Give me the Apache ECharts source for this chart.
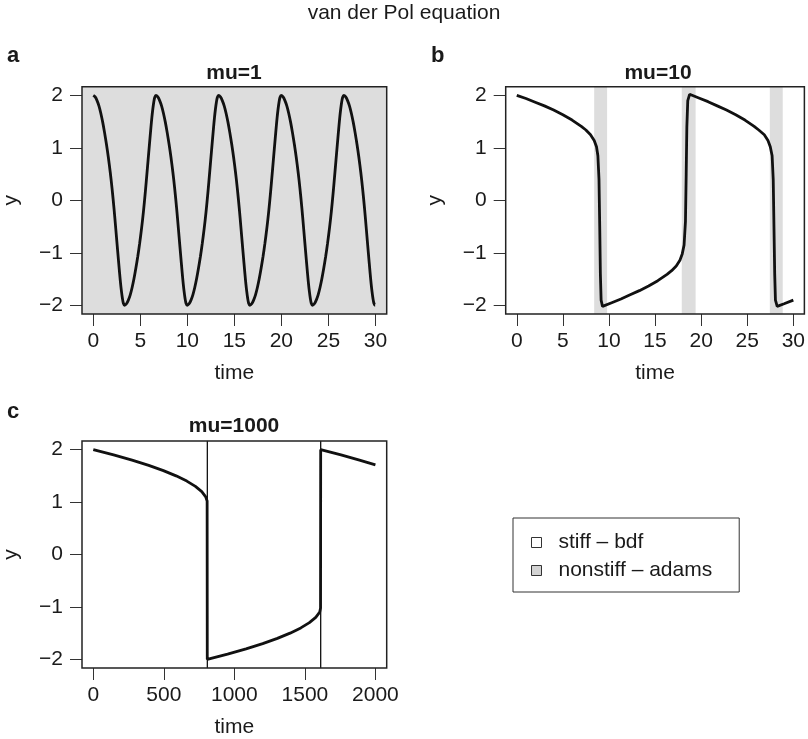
<!DOCTYPE html>
<html><head><meta charset="utf-8">
<script src="https://cdn.jsdelivr.net/npm/echarts@6/dist/echarts.min.js"></script>
<style>html,body{margin:0;padding:0;background:#fff}#c{width:808px;height:739px}</style>
</head><body><div id="c"></div>
<script>
// ---- panel a : mu = 1 ----
const timeA = [
0,0.2,0.4,0.6,0.8,1,1.2,1.4,1.6,1.8,2,2.2,2.4,2.6,2.8,2.9,3,3.1,3.2,
3.33,3.53,3.73,3.93,4.13,4.33,4.53,4.73,4.93,5.13,5.33,5.53,5.73,5.93,6.13,6.23,6.33,6.43,6.53,
6.66,6.86,7.06,7.26,7.46,7.66,7.86,8.06,8.26,8.46,8.66,8.86,9.06,9.26,9.46,9.56,9.66,9.76,9.86,
9.99,10.19,10.39,10.59,10.79,10.99,11.19,11.39,11.59,11.79,11.99,12.19,12.39,12.59,12.79,12.89,12.99,13.09,13.19,
13.32,13.52,13.72,13.92,14.12,14.32,14.52,14.72,14.92,15.12,15.32,15.52,15.72,15.92,16.12,16.22,16.32,16.42,16.52,
16.65,16.85,17.05,17.25,17.45,17.65,17.85,18.05,18.25,18.45,18.65,18.85,19.05,19.25,19.45,19.55,19.65,19.75,19.85,
19.98,20.18,20.38,20.58,20.78,20.98,21.18,21.38,21.58,21.78,21.98,22.18,22.38,22.58,22.78,22.88,22.98,23.08,23.18,
23.31,23.51,23.71,23.91,24.11,24.31,24.51,24.71,24.91,25.11,25.31,25.51,25.71,25.91,26.11,26.21,26.31,26.41,26.51,
26.64,26.84,27.04,27.24,27.44,27.64,27.84,28.04,28.24,28.44,28.64,28.84,29.04,29.24,29.44,29.54,29.64,29.74,29.84,
29.97,30
];
const yA = [
2,1.97,1.9,1.8,1.66,1.49,1.29,1.07,0.82,0.54,0.22,-0.15,-0.56,-0.98,-1.39,-1.58,-1.74,-1.87,-1.96,
-2,-1.97,-1.9,-1.8,-1.66,-1.49,-1.29,-1.07,-0.82,-0.54,-0.22,0.15,0.56,0.98,1.39,1.58,1.74,1.87,1.96,
2,1.97,1.9,1.8,1.66,1.49,1.29,1.07,0.82,0.54,0.22,-0.15,-0.56,-0.98,-1.39,-1.58,-1.74,-1.87,-1.96,
-2,-1.97,-1.9,-1.8,-1.66,-1.49,-1.29,-1.07,-0.82,-0.54,-0.22,0.15,0.56,0.98,1.39,1.58,1.74,1.87,1.96,
2,1.97,1.9,1.8,1.66,1.49,1.29,1.07,0.82,0.54,0.22,-0.15,-0.56,-0.98,-1.39,-1.58,-1.74,-1.87,-1.96,
-2,-1.97,-1.9,-1.8,-1.66,-1.49,-1.29,-1.07,-0.82,-0.54,-0.22,0.15,0.56,0.98,1.39,1.58,1.74,1.87,1.96,
2,1.97,1.9,1.8,1.66,1.49,1.29,1.07,0.82,0.54,0.22,-0.15,-0.56,-0.98,-1.39,-1.58,-1.74,-1.87,-1.96,
-2,-1.97,-1.9,-1.8,-1.66,-1.49,-1.29,-1.07,-0.82,-0.54,-0.22,0.15,0.56,0.98,1.39,1.58,1.74,1.87,1.96,
2,1.97,1.9,1.8,1.66,1.49,1.29,1.07,0.82,0.54,0.22,-0.15,-0.56,-0.98,-1.39,-1.58,-1.74,-1.87,-1.96,
-2,-1.99
];
// ---- panel b : mu = 10 ----
const timeB = [
0,1,2,3,4,5,6,7,7.5,8,8.4,8.65,8.8,8.92,9,9.07,9.15,9.3,
10.3,11.3,12.3,13.3,14.3,15.3,16.3,16.8,17.3,17.7,17.95,18.15,18.3,18.38,18.45,18.55,18.75,
19.75,20.75,21.75,22.75,23.75,24.75,25.75,26.25,26.85,27.25,27.5,27.7,27.82,27.9,27.98,28.06,28.25,
29,30
];
const yB = [
2,1.94,1.87,1.8,1.72,1.63,1.53,1.41,1.34,1.25,1.14,1.02,0.85,0.4,-0.5,-1.4,-1.9,-2.02,
-1.95,-1.88,-1.8,-1.72,-1.63,-1.53,-1.41,-1.34,-1.25,-1.14,-1.02,-0.85,-0.4,0.5,1.4,1.9,2.02,
1.95,1.88,1.8,1.72,1.63,1.53,1.41,1.34,1.25,1.14,1.02,0.85,0.4,-0.5,-1.4,-1.9,-2.02,
-1.97,-1.9
];
// ---- panel c : mu = 1000 ----
const timeC = [0,144,275,393,497,587,663,724,769,797,807,808,952,1083,1201,1305,1395,1471,1532,1577,1605,1611,1612,1756,1887,2000];
const yC    = [2,1.9,1.8,1.7,1.6,1.5,1.4,1.3,1.2,1.1,1.02,-2,-1.9,-1.8,-1.7,-1.6,-1.5,-1.4,-1.3,-1.2,-1.1,-1.02,2,1.9,1.8,1.71];

// method intervals (nonstiff - adams)
const nonstiffA = [[-1.2, 31.2]];
const nonstiffB = [[8.4, 9.8], [17.9, 19.4], [27.45, 28.85]];
const nonstiffC = [[808, 809], [1611.5, 1612.5]];

// ticks / labels
const xTicksAB = [0, 5, 10, 15, 20, 25, 30];
const xTicksC = [0, 500, 1000, 1500, 2000];
const yTicks = [-2, -1, 0, 1, 2];
const panelTitles = ['mu=1', 'mu=10', 'mu=1000'];
const panelLetters = ['a', 'b', 'c'];
const legendNames = ['stiff \u2013 bdf', 'nonstiff \u2013 adams'];
const mainTitle = 'van der Pol equation';

const FONT = '"Liberation Sans", Arial, Helvetica, sans-serif';
const FS = 21;
const TXT = '#1a1a1a';

const grids = [
  {left: 81.7, top: 86.7, width: 305, height: 227.3},
  {left: 505.7, top: 86.7, width: 304.6, height: 227.3},
  {left: 81.7, top: 441, width: 305, height: 228}
];
const xRanges = [[-1.2, 31.2], [-1.2, 31.2], [-80, 2080]];
const xTicks = [xTicksAB, xTicksAB, xTicksC];

function minusFmt(v) { return v < 0 ? '\u2212' + Math.abs(v) : String(v); }

const option = {
  animation: false,
  backgroundColor: '#fff',
  grid: grids.map(g => Object.assign({show: true, borderColor: '#222', borderWidth: 1.5, backgroundColor: 'transparent', z: 10}, g)),
  xAxis: grids.map((g, i) => ({
    type: 'value', gridIndex: i, min: xRanges[i][0], max: xRanges[i][1],
    name: 'time', nameLocation: 'middle', nameGap: 49,
    nameTextStyle: {fontFamily: FONT, fontSize: FS, color: TXT},
    axisLine: {show: false, onZero: false},
    splitLine: {show: false},
    axisTick: {show: true, length: 12, customValues: xTicks[i], lineStyle: {color: '#333', width: 1}},
    axisLabel: {customValues: xTicks[i], margin: 17, fontFamily: FONT, fontSize: FS, color: TXT, formatter: v => String(v)}
  })),
  yAxis: grids.map((g, i) => ({
    type: 'value', gridIndex: i, min: -2.165, max: 2.165,
    name: 'y', nameLocation: 'middle', nameGap: 60,
    nameTextStyle: {fontFamily: FONT, fontSize: FS, color: TXT},
    axisLine: {show: false, onZero: false},
    splitLine: {show: false},
    axisTick: {show: true, length: 12, customValues: yTicks, lineStyle: {color: '#333', width: 1}},
    axisLabel: {customValues: yTicks, margin: 19, fontFamily: FONT, fontSize: FS, color: TXT, formatter: minusFmt}
  })),
  legend: {
    orient: 'vertical', left: 513, top: 518,
    padding: [14, 27, 11, 18], itemGap: 7, itemWidth: 10, itemHeight: 10,
    selectedMode: false, borderColor: '#333', borderWidth: 1,
    textStyle: {fontFamily: FONT, fontSize: FS, color: TXT, padding: [0, 0, 0, 12]},
    data: [
      {name: legendNames[0], icon: 'rect', itemStyle: {color: '#ffffff', borderColor: '#333', borderWidth: 1}},
      {name: legendNames[1], icon: 'rect', itemStyle: {color: '#d3d3d3', borderColor: '#333', borderWidth: 1}}
    ]
  },
  graphic: [
    {type: 'text', x: 404, y: 13, style: {text: mainTitle, font: `${FS}px ${FONT}`, fill: TXT, align: 'center', verticalAlign: 'middle'}},
    {type: 'text', x: 7, y: 55.6, style: {text: panelLetters[0], font: `bold 22px ${FONT}`, fill: TXT, align: 'left', verticalAlign: 'middle'}},
    {type: 'text', x: 431, y: 55.6, style: {text: panelLetters[1], font: `bold 22px ${FONT}`, fill: TXT, align: 'left', verticalAlign: 'middle'}},
    {type: 'text', x: 7, y: 412, style: {text: panelLetters[2], font: `bold 22px ${FONT}`, fill: TXT, align: 'left', verticalAlign: 'middle'}},
    {type: 'text', x: 234, y: 72.8, style: {text: panelTitles[0], font: `bold ${FS}px ${FONT}`, fill: TXT, align: 'center', verticalAlign: 'middle'}},
    {type: 'text', x: 658, y: 72.8, style: {text: panelTitles[1], font: `bold ${FS}px ${FONT}`, fill: TXT, align: 'center', verticalAlign: 'middle'}},
    {type: 'text', x: 234, y: 425.8, style: {text: panelTitles[2], font: `bold ${FS}px ${FONT}`, fill: TXT, align: 'center', verticalAlign: 'middle'}}
  ],
  series: []
};

const curves = [[timeA, yA, 0.3], [timeB, yB, 0], [timeC, yC, 0]];
const areas = [nonstiffA, nonstiffB, nonstiffC];
curves.forEach(([t, y, sm], i) => {
  option.series.push({
    type: 'line', xAxisIndex: i, yAxisIndex: i, silent: true,
    data: t.map((v, k) => [v, y[k]]),
    symbol: 'none', smooth: sm, z: 3,
    lineStyle: {color: '#111', width: 2.8},
    markArea: {
      silent: true, z: 1, label: {show: false},
      itemStyle: i === 2 ? {color: '#dcdcdc', borderColor: '#111', borderWidth: 1} : {color: '#dddddd', borderWidth: 0},
      data: areas[i].map(([a, b]) => [{xAxis: a}, {xAxis: b}])
    }
  });
});
// legend holders
option.series.push({type: 'line', name: legendNames[0], xAxisIndex: 1, yAxisIndex: 1, data: [], color: '#ffffff'});
option.series.push({type: 'line', name: legendNames[1], xAxisIndex: 1, yAxisIndex: 1, data: [], color: '#d3d3d3'});

const chart = echarts.init(document.getElementById('c'), null, {renderer: 'canvas'});
chart.setOption(option);
</script></body></html>
